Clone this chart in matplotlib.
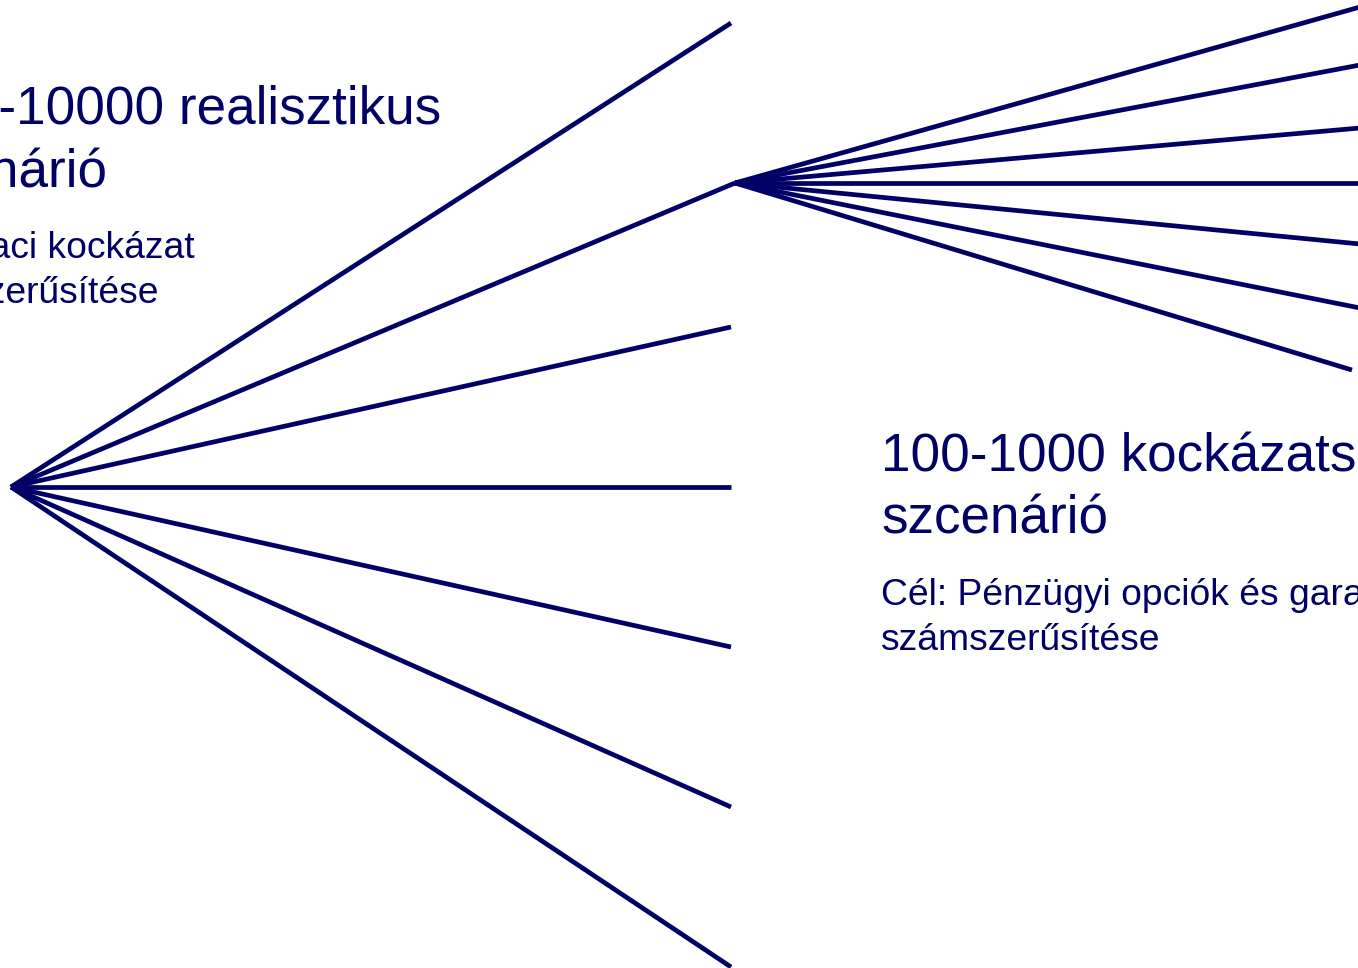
import matplotlib
matplotlib.use("Agg")
from matplotlib import pyplot as plt

# node positions (pixel coordinates of the slide, y downward)
root_x, root_y = 11, 487
branch_x = 731
branch_y = [23, 183, 327, 487, 647, 807, 967]

sub_x, sub_y = 735, 183
leaf_x = [1360, 1360, 1360, 1360, 1360, 1360, 1352]
leaf_y = [7, 65, 128, 183, 244, 308, 370]

left_title = ["1000-10000 realisztikus", "szcenárió"]
left_note = ["Cél: Piaci kockázat", "számszerűsítése"]
right_title = ["100-1000 kockázatsemleges", "szcenárió"]
right_note = ["Cél: Pénzügyi opciók és garanciák", "számszerűsítése"]

navy = "#000066"
plt.rcParams['font.family'] = ['Liberation Sans', 'DejaVu Sans']

fig = plt.figure(figsize=(13.58, 9.68), dpi=100)
ax = fig.add_axes([0, 0, 1, 1])
ax.set_xlim(0, 1358)
ax.set_ylim(968, 0)
ax.axis("off")

for y in branch_y:
    x_end = sub_x if y == sub_y else branch_x
    ax.plot([root_x, x_end], [root_y, y], color=navy, lw=3.4,
            solid_capstyle="butt", clip_on=False)

for x, y in zip(leaf_x, leaf_y):
    ax.plot([sub_x, x], [sub_y, y], color=navy, lw=3.4,
            solid_capstyle="butt", clip_on=False)

def block(x, title, note, y_title, y_note):
    for k, line in enumerate(title):
        ax.text(x, y_title + k * 63, line, fontsize=38.2, color=navy,
                ha="left", va="baseline")
    for k, line in enumerate(note):
        ax.text(x, y_note + k * 45, line, fontsize=26.8, color=navy,
                ha="left", va="baseline")

block(-120, left_title, left_note, 124, 258)
block(881, right_title, right_note, 471, 605)

fig.savefig("out.png", dpi=100)
